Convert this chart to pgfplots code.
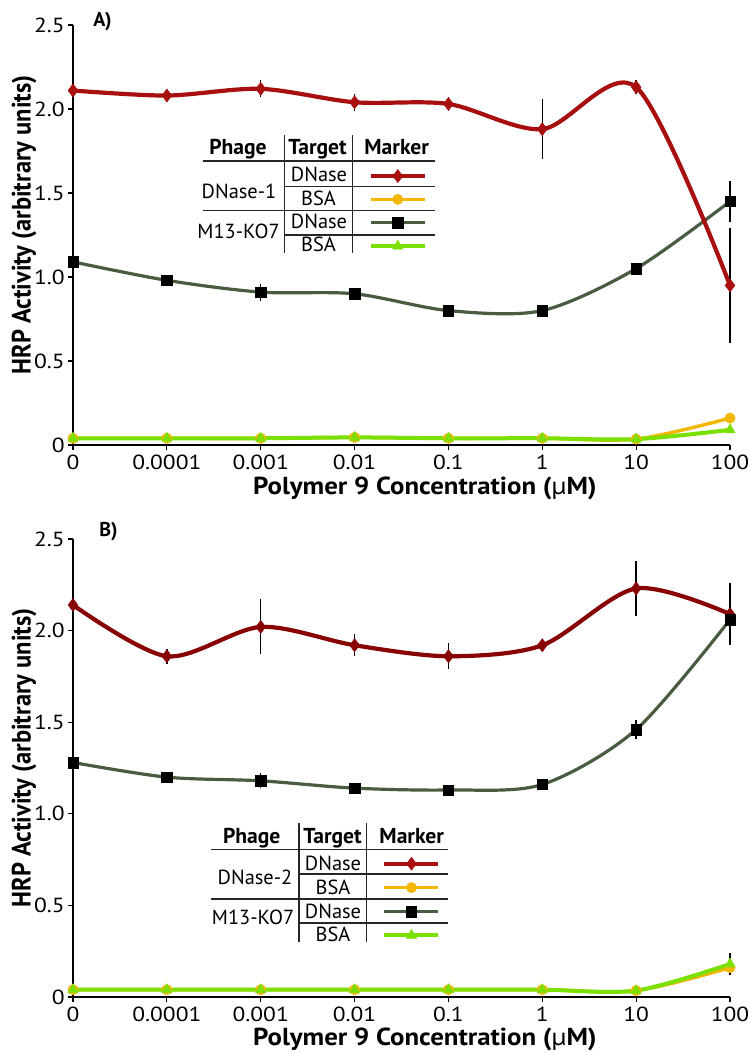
\documentclass[border=0pt]{standalone}
\usepackage{pgfplots}
\pgfplotsset{compat=1.18}
\usepackage{fontspec}
\setmainfont{PT Sans}
\definecolor{cRedA}{RGB}{168,16,16}
\definecolor{cRedB}{RGB}{136,4,4}
\definecolor{cOr}{RGB}{245,182,0}
\definecolor{cDk}{RGB}{72,92,64}
\definecolor{cLt}{RGB}{122,224,0}
\tikzset{
  sRed/.style={color=#1, line width=2.1pt, mark=diamond*, mark size=3.3pt, mark options={solid, fill=#1, draw=#1, line width=0.2pt}},
  sOr/.style={color=cOr, line width=1.7pt, mark=*, mark size=2.6pt, mark options={solid, fill=cOr, draw=cOr, line width=0.2pt}},
  sDk/.style={color=cDk, line width=1.6pt, mark=square*, mark size=2.6pt, mark options={solid, fill=black, draw=black, line width=0.2pt}},
  sLt/.style={color=cLt, line width=2pt, mark=triangle*, mark size=3pt, mark options={solid, fill=cLt, draw=cLt, line width=0.2pt}},
}
\pgfplotsset{
  common/.style={
    scale only axis, width=328.5pt,
    xmin=0, xmax=7, ymin=0, ymax=2.5, clip=false,
    axis x line=bottom, axis y line=left,
    axis line style={-, black, line width=0.6pt},
    xtick={0,...,7}, xticklabels={0,0.0001,0.001,0.01,0.1,1,10,100},
    ytick={0,0.5,1,1.5,2,2.5}, yticklabels={0,0.5,1.0,1.5,2.0,2.5},
    tick align=outside, major tick length=2.5pt,
    tick style={black, line width=0.6pt},
    ticklabel style={font=\fontsize{10.2}{11}\selectfont, xscale=1.15},
    yticklabel style={inner sep=1.2pt},
    xticklabel style={inner sep=2.2pt},
    legend image code/.code={\draw[mark repeat=2,mark phase=2,##1] plot coordinates {(0pt,0pt) (13.5pt,0pt) (27pt,0pt)};},
    legend style={anchor=north west, draw=none, fill=none, inner sep=0pt, row sep=0pt, column sep=0pt,
      nodes={inner sep=0pt, text depth=0pt}},
  },
  errs/.style={error bars/y dir=both, error bars/y explicit, error bars/error mark=none,
    error bars/error bar style={black, line width=0.7pt, solid}},
}
\begin{document}
\begin{tikzpicture}
\useasboundingbox (0,0) rectangle (374pt,526.5pt);
% ---------------- Panel A ----------------
\begin{axis}[common, height=210pt, at={(36.5pt,304pt)}, anchor=south west,
  legend style={at={(0.4495,0.669)}, nodes={minimum height=11.67pt}}]
\addlegendimage{sRed=cRedA}\addlegendentry{\mbox{}}
\addlegendimage{sOr}\addlegendentry{\mbox{}}
\addlegendimage{sDk}\addlegendentry{\mbox{}}
\addlegendimage{sLt}\addlegendentry{\mbox{}}
\addplot[sDk, smooth, errs, forget plot] table[x=x, y=y, y error=e] {
x y e
0 1.09 0.01
1 0.98 0.01
2 0.91 0.05
3 0.90 0.02
4 0.80 0.01
5 0.80 0.01
6 1.05 0.01
7 1.45 0.12
};
\addplot[sRed=cRedA, smooth, errs, forget plot] table[x=x, y=y, y error=e] {
x y e
0 2.11 0.01
1 2.08 0.01
2 2.12 0.05
3 2.04 0.05
4 2.03 0.04
5 1.88 0.18
6 2.13 0.04
7 0.95 0.34
};
\addplot[sOr, smooth, forget plot] table[x=x, y=y] {
x y
0 0.04
1 0.04
2 0.04
3 0.045
4 0.04
5 0.04
6 0.035
7 0.16
};
\addplot[sLt, smooth, forget plot] table[x=x, y=y] {
x y
0 0.04
1 0.04
2 0.04
3 0.045
4 0.04
5 0.04
6 0.035
7 0.09
};
\end{axis}
% ---------------- Panel B ----------------
\begin{axis}[common, height=229pt, at={(36.5pt,28pt)}, anchor=south west,
  legend style={at={(0.4703,0.318)}, nodes={minimum height=11.95pt}}]
\addlegendimage{sRed=cRedA}\addlegendentry{\mbox{}}
\addlegendimage{sOr}\addlegendentry{\mbox{}}
\addlegendimage{sDk}\addlegendentry{\mbox{}}
\addlegendimage{sLt}\addlegendentry{\mbox{}}
\addplot[sRed=cRedB, smooth, errs, forget plot] table[x=x, y=y, y error=e] {
x y e
0 2.14 0.01
1 1.86 0.04
2 2.02 0.15
3 1.92 0.06
4 1.86 0.07
5 1.92 0.02
6 2.23 0.15
7 2.09 0.17
};
\addplot[sDk, smooth, errs, forget plot] table[x=x, y=y, y error=e] {
x y e
0 1.28 0.01
1 1.20 0.01
2 1.18 0.04
3 1.14 0.02
4 1.13 0.01
5 1.16 0.01
6 1.46 0.05
7 2.06 0.02
};
\addplot[sOr, smooth, forget plot] table[x=x, y=y] {
x y
0 0.04
1 0.04
2 0.04
3 0.04
4 0.04
5 0.04
6 0.035
7 0.16
};
\addplot[sLt, smooth, errs, forget plot] table[x=x, y=y, y error=e] {
x y e
0 0.04 0
1 0.04 0
2 0.04 0
3 0.04 0
4 0.04 0
5 0.04 0
6 0.035 0
7 0.18 0.06
};
\end{axis}
% ---------------- texts and legend tables (px grid, y downward) ----------------
\begin{scope}[x=0.5pt, y=-0.5pt, shift={(0pt,526.5pt)}]
  \tikzset{lt/.style={font=\fontsize{10.2}{11}\selectfont, inner sep=0pt, anchor=base},
           hd/.style={font=\bfseries\fontsize{10.8}{12}\selectfont, inner sep=0pt, anchor=base},
           tl/.style={black!85, line width=0.75pt}}
  % panel letters
  \node[font=\bfseries\fontsize{10}{11}\selectfont, anchor=base west, inner sep=0pt] at (93,27) {A)};
  \node[font=\bfseries\fontsize{10}{11}\selectfont, anchor=base west, inner sep=0pt] at (99,537) {B)};
  % axis titles
  \node[font=\bfseries\fontsize{13.3}{15}\selectfont, rotate=90, xscale=0.92, inner sep=0pt] at (24,225) {HRP Activity (arbitrary units)};
  \node[font=\bfseries\fontsize{13.3}{15}\selectfont, rotate=90, xscale=0.92, inner sep=0pt] at (24,758) {HRP Activity (arbitrary units)};
  \node[font=\bfseries\fontsize{12.3}{14}\selectfont, xscale=1.09, anchor=base, inner sep=0pt] at (425,495) {Polymer 9 Concentration ({\mdseries µ}M)};
  \node[font=\bfseries\fontsize{12.3}{14}\selectfont, xscale=1.09, anchor=base, inner sep=0pt] at (425,1046) {Polymer 9 Concentration ({\mdseries µ}M)};
  % legend table A
  \node[hd] at (238,155) {Phage};
  \node[hd] at (317.5,155) {Target};
  \node[hd] at (396.7,155) {Marker};
  \draw[tl] (203,161) -- (435,161);
  \draw[tl] (284.3,135) -- (284.3,253.3);
  \draw[tl] (352.3,135) -- (352.3,253.3);
  \draw[tl] (284.3,186.3) -- (435,186.3);
  \draw[tl] (203,210.7) -- (435,210.7);
  \draw[tl] (284.3,235) -- (435,235);
  \node[lt] at (239,199) {DNase-1};
  \node[lt] at (238.5,239) {M13-KO7};
  \node[lt] at (319,182) {DNase};
  \node[lt] at (318.5,206) {BSA};
  \node[lt] at (319,229) {DNase};
  \node[lt] at (318.5,252) {BSA};
  % legend table B
  \node[hd] at (251.7,843.5) {Phage};
  \node[hd] at (332.5,843.5) {Target};
  \node[hd] at (411.7,843.5) {Marker};
  \draw[tl] (210.7,849.3) -- (448,849.3);
  \draw[tl] (299,823) -- (299,942);
  \draw[tl] (366.7,823) -- (366.7,942);
  \draw[tl] (299,874) -- (448,874);
  \draw[tl] (210.7,899) -- (448,899);
  \draw[tl] (299,923) -- (448,923);
  \node[lt] at (255,885) {DNase-2};
  \node[lt] at (253,925) {M13-KO7};
  \node[lt] at (333,870.3) {DNase};
  \node[lt] at (333,894.7) {BSA};
  \node[lt] at (333,918.7) {DNase};
  \node[lt] at (333,942) {BSA};
\end{scope}
\end{tikzpicture}
\end{document}
